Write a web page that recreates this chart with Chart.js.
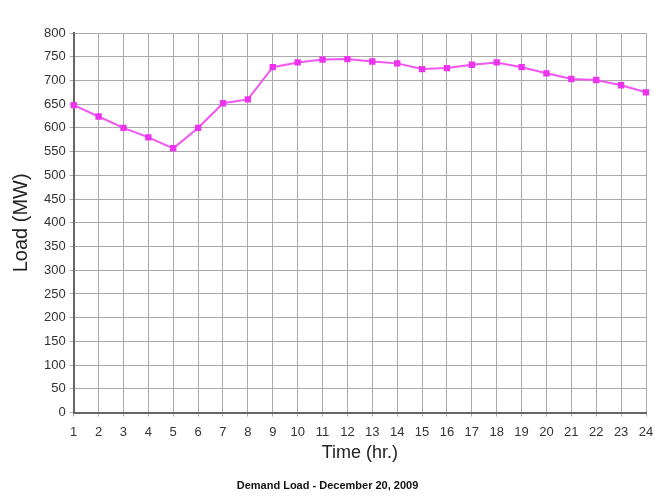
<!doctype html>
<html lang="en">
<head>
  <meta charset="utf-8" />
  <title>Demand Load</title>
  <style>
    body { margin: 0; background: #fff; }
  </style>
</head>
<body>
  <canvas id="lienzo" width="670" height="498"></canvas>
  <script src="https://cdn.jsdelivr.net/npm/chart.js"></script>
  <script>
    // hours of the day
    const horas = ['1','2','3','4','5','6','7','8','9','10','11','12','13','14','15','16','17','18','19','20','21','22','23','24'];
    // load in MW
    const carga = [648, 624, 600, 580, 557, 600, 652, 660, 728, 738, 744, 745, 740, 736, 724, 726, 733, 738, 728, 715, 703, 701, 690, 675];

    const fuente = "'Liberation Sans', Arial, sans-serif";

    const grafico = new Chart(document.querySelector('#lienzo'), {
      type: 'line',
      data: {
        labels: horas,
        datasets: [{
          label: 'Load',
          data: carga,
          borderColor: '#f255f2',
          backgroundColor: '#ee33ee',
          borderWidth: 2,
          pointStyle: 'rect',
          pointRadius: 4.5,
          pointBorderWidth: 0,
          tension: 0
        }]
      },
      options: {
        responsive: false,
        animation: false,
        layout: { padding: { top: 33, right: 24, bottom: 0, left: 9 } },
        plugins: {
          legend: { display: false },
          tooltip: { enabled: false },
          title: {
            display: true,
            position: 'bottom',
            text: 'Demand Load - December 20, 2009',
            color: '#111',
            font: { family: fuente, size: 11, weight: 'bold' },
            padding: { top: 16, bottom: 5 }
          }
        },
        scales: {
          x: {
            offset: false,
            grid: { color: '#aaa', lineWidth: 1, tickLength: 4 },
            border: { color: '#666', width: 2 },
            ticks: { color: '#333', font: { family: fuente, size: 13 }, maxRotation: 0, autoSkip: false, padding: 8 },
            title: { display: true, text: 'Time (hr.)', color: '#222', font: { family: fuente, size: 18 }, padding: { top: -6, bottom: 0 } }
          },
          y: {
            min: 0,
            max: 800,
            grid: { color: '#aaa', lineWidth: 1, tickLength: 4 },
            border: { color: '#666', width: 2 },
            ticks: { stepSize: 50, color: '#333', font: { family: fuente, size: 13 }, padding: 4 },
            title: { display: true, text: 'Load (MW)', color: '#222', font: { family: fuente, size: 20 }, padding: { top: 0, bottom: 7 } }
          }
        }
      }
    });
  </script>
</body>
</html>
